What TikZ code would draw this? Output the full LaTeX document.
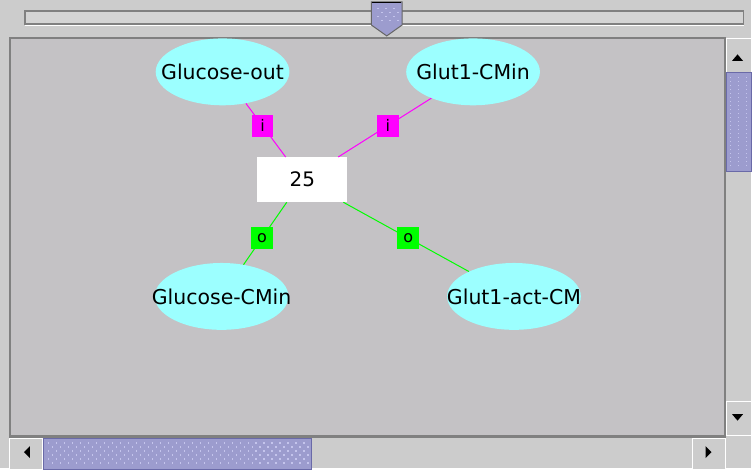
\documentclass[tikz,border=0pt]{standalone}
\usepackage{fontspec}
\setmainfont{DejaVu Sans}
\usetikzlibrary{shapes.geometric,calc}
\definecolor{winbg}{HTML}{CCCCCC}
\definecolor{canvasbg}{HTML}{C4C2C5}
\definecolor{spfill}{HTML}{9CFFFF}
\definecolor{inpink}{HTML}{FF00FF}
\definecolor{outgreen}{HTML}{00FF00}
\definecolor{thumbfill}{HTML}{9C9CCE}
\definecolor{thumbedge}{HTML}{6A6AA8}
\definecolor{thumbdot}{HTML}{C4C4EC}
\definecolor{edgegray}{HTML}{808080}
\begin{document}
\begin{tikzpicture}[x=1pt,y=-1pt,
        species/.style={ellipse, fill=spfill, minimum width=134pt, minimum height=67pt, inner sep=0pt, label={[font=\fontsize{20.5}{20.5}\selectfont]center:#1}},
        ratebox/.style={rectangle, fill=white, minimum width=90pt, minimum height=45pt, font=\fontsize{20}{20}\selectfont},
        inlab/.style={rectangle, fill=inpink, minimum size=22pt, inner sep=0pt, font=\fontsize{16}{16}\selectfont},
        outlab/.style={inlab, fill=outgreen},
        inedge/.style={inpink, line width=1pt},
        outedge/.style={outgreen, line width=1pt},
        thumb/.style={draw=thumbedge, fill=thumbfill, line width=1pt},
        button/.style={fill=winbg, draw=white, line width=1pt}]
    % window and slider
    \fill [winbg] (0,0) rectangle (752,469);
    \draw [edgegray, fill=winbg!85!white, line width=1.5pt] (25,11) rectangle (745,24);
    \draw [white, line width=1pt] (25,26) -- (745,26);
    \draw [thumb, draw=black!60] (372,2) -- (403,2) -- (403,25) -- (387.5,36) -- (372,25) -- cycle;
    \draw [black, line width=1.5pt] (373,2.5) -- (402,2.5);
    \foreach \x in {378,386,394} \foreach \y in {8,16} {
        \fill [thumbdot] (\x,\y) rectangle +(1.5,1.5);
        \fill [thumbdot] (\x+4,\y+4) rectangle +(1.5,1.5);
    }
    % canvas
    \fill [canvasbg] (9,37) rectangle (726,437);
    \draw [edgegray, line width=2pt] (10,437) -- (10,38) -- (726,38) -- (726,437) -- (9,437);
    % vertical scrollbar
    \draw [button] (727.5,39) rectangle (753,73);
    \fill (733.5,61) -- (744.5,61) -- (739,54.5) -- cycle;
    \draw [thumb] (727.5,73) rectangle (753,172);
    \foreach \y in {77,81,...,167} {
        \fill [thumbdot] (731,\y) rectangle +(1.5,1.5);
        \fill [thumbdot] (739,\y) rectangle +(1.5,1.5);
        \fill [thumbdot] (747,\y) rectangle +(1.5,1.5);
    }
    \draw [button] (727.5,402) rectangle (753,436);
    \fill (733.5,415) -- (744.5,415) -- (739,421.5) -- cycle;
    % horizontal scrollbar
    \draw [edgegray, line width=1pt] (9,438.5) -- (727,438.5);
    \draw [button] (9.5,439.5) rectangle (43,470);
    \fill (30,447) -- (30,459) -- (24,453) -- cycle;
    \draw [thumb] (43.5,439) rectangle (312,470);
    \foreach \x in {48,56,...,304} \foreach \y in {443,451,459} {
        \fill [thumbdot] (\x,\y) rectangle +(1.5,1.5);
        \fill [thumbdot] (\x+4,\y+4) rectangle +(1.5,1.5);
    }
    \draw [button] (693.5,439.5) rectangle (727,470);
    \fill (707,447) -- (707,459) -- (713,453) -- cycle;
    % reaction graph
    \node [species=Glucose-out] (gout) at (223,72) {};
    \node [species=Glut1-CMin] (gcmin) at (474,72) {};
    \node [ratebox] (rate) at (303,180) {25};
    \node [species=Glucose-CMin] (gcmout) at (222,297) {};
    \node [species=Glut1-act-CM] (gact) at (515,297) {};
    \draw [inedge] (gout) -- (rate);
    \draw [inedge] (gcmin) -- (rate);
    \draw [outedge] (rate) -- (gcmout);
    \draw [outedge] (rate) -- (gact);
    \node [inlab] (ileft) at ($(gout)!.5!(rate)$) {i};
    \node [inlab] (iright) at ($(gcmin)!.5!(rate)$) {i};
    \node [outlab] (oleft) at ($(rate)!.5!(gcmout)$) {o};
    \node [outlab] (oright) at ($(rate)!.5!(gact)$) {o};
    \useasboundingbox (0,0) rectangle (752,469);
\end{tikzpicture}
\end{document}
